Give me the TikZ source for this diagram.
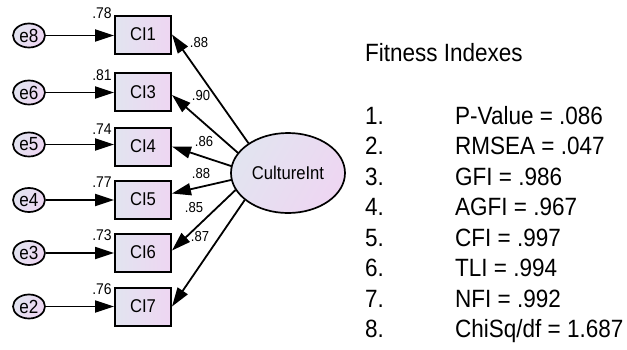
\documentclass[tikz,border=0pt]{standalone}
\usepackage{fontspec}
\setmainfont{Liberation Sans}[FakeStretch=0.9]
\usetikzlibrary{arrows.meta,shapes.geometric}

\definecolor{fillA}{RGB}{226,228,240}
\definecolor{fillB}{RGB}{238,214,242}

\tikzset{
  fsize/.style={font=\fontsize{#1}{#1}\selectfont},
  obsbox/.style={draw, line width=2pt, minimum width=56pt, minimum height=38pt,
    inner sep=0pt, left color=fillA, right color=fillB, fsize=18.5},
  errnode/.style={ellipse, draw, line width=1.7pt, minimum width=32pt, minimum height=24pt,
    inner sep=0pt, left color=fillA, right color=fillB, shading angle=60, fsize=19},
  latent/.style={ellipse, draw, line width=1.7pt, minimum width=114pt, minimum height=80pt,
    inner sep=0pt, left color=fillA, right color=fillB, shading angle=60, fsize=18.5},
  path/.style={line width=1.8pt, -{Triangle[length=19pt,width=12pt]}},
  coef/.style={inner sep=0pt, fsize=14.5},
  rsq/.style={inner sep=0pt, fsize=15.5},
  fit/.style={inner sep=0pt, anchor=base west, fsize=25},
}

\begin{document}
\begin{tikzpicture}[x=1pt, y=-1pt]
\useasboundingbox (0,0) rectangle (627,349);

% observed indicators
\node[obsbox] (ci1) at (143,34.5) {CI1};
\node[obsbox] (ci3) at (143,92) {CI3};
\node[obsbox] (ci4) at (143,146.5) {CI4};
\node[obsbox] (ci5) at (143,199.5) {CI5};
\node[obsbox] (ci6) at (143,252.5) {CI6};
\node[obsbox] (ci7) at (143,306.5) {CI7};

% error terms
\node[errnode] (e8) at (29,35.5) {e8};
\node[errnode] (e6) at (29,92.5) {e6};
\node[errnode] (e5) at (29,144.5) {e5};
\node[errnode] (e4) at (29,200) {e4};
\node[errnode] (e3) at (29,253) {e3};
\node[errnode] (e2) at (29,306.5) {e2};

% latent factor
\node[latent] (ce) at (288,173) {CultureInt};

% error paths
\draw[path] (e8) -- (e8 -| ci1.west);
\draw[path] (e6) -- (e6 -| ci3.west);
\draw[path] (e5) -- (e5 -| ci4.west);
\draw[path] (e4) -- (e4 -| ci5.west);
\draw[path] (e3) -- (e3 -| ci6.west);
\draw[path] (e2) -- (e2 -| ci7.west);

% factor loadings
\draw[path] (ce.143) -- (ci1.east);
\draw[path] (ce.158) -- ([yshift=-3pt]ci3.east);
\draw[path] (ce.173) -- (ci4.east);
\draw[path] (ce.187) -- ([yshift=6pt]ci5.east);
\draw[path] (ce.198) -- ([yshift=2pt]ci6.east);
\draw[path] (ce.212) -- (ci7.east);

% loading estimates
\node[coef] (l1) at (199,43) {.88};
\node[coef] (l3) at (201,96) {.90};
\node[coef] (l4) at (204,142) {.86};
\node[coef] (l5) at (201,174) {.88};
\node[coef] (l6) at (194,208) {.85};
\node[coef] (l7) at (200,237) {.87};

% squared multiple correlations
\node[rsq] (r1) at (102,13) {.78};
\node[rsq] (r3) at (102,75) {.81};
\node[rsq] (r4) at (102,129) {.74};
\node[rsq] (r5) at (102,182) {.77};
\node[rsq] (r6) at (102,235) {.73};
\node[rsq] (r7) at (102,289) {.76};

% fit summary
\node[fit] (title) at (365,61) {Fitness Indexes};
\node[fit] (n1) at (365,124) {1.};
\node[fit] (n2) at (365,154.5) {2.};
\node[fit] (n3) at (365,185) {3.};
\node[fit] (n4) at (365,215.5) {4.};
\node[fit] (n5) at (365,246) {5.};
\node[fit] (n6) at (365,276.5) {6.};
\node[fit] (n7) at (365,307) {7.};
\node[fit] (n8) at (365,337.5) {8.};
\node[fit] (f1) at (455,124) {P-Value = .086};
\node[fit] (f2) at (455,154.5) {RMSEA = .047};
\node[fit] (f3) at (455,185) {GFI = .986};
\node[fit] (f4) at (455,215.5) {AGFI = .967};
\node[fit] (f5) at (455,246) {CFI = .997};
\node[fit] (f6) at (455,276.5) {TLI = .994};
\node[fit] (f7) at (455,307) {NFI = .992};
\node[fit] (f8) at (455,337.5) {ChiSq/df = 1.687};
\end{tikzpicture}
\end{document}
